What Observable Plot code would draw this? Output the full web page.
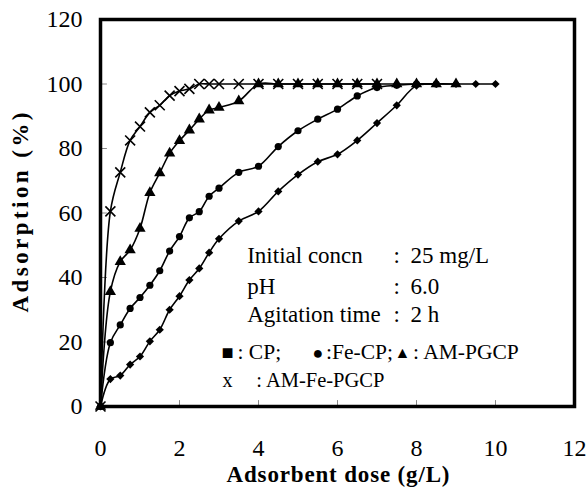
<!DOCTYPE html>
<html><head><meta charset="utf-8">
<script src="https://cdn.jsdelivr.net/npm/d3@7"></script>
<script src="https://cdn.jsdelivr.net/npm/@observablehq/plot@0.6"></script>
<style>
body{margin:0;background:#fff}
#chart svg, #chart svg text{font-family:"Liberation Serif","Times New Roman",serif !important}
</style>
</head><body><div id="chart"></div>
<script>
// Adsorbent dose (g/L)
const dose = [0,0.25,0.5,0.75,1,1.25,1.5,1.75,2,2.25,2.5,2.75,3,3.5,4,4.5,5,5.5,6,6.5,7,7.5,8,8.5,9,9.5,10];
// Adsorption (%) per series (values follow the dose list, from the start)
const cp = [0,8.5,9.6,13,15.5,20.2,23.8,30,34.2,39.2,42.8,47.7,52,57.5,60.5,66.7,71.9,75.9,78.2,82.5,87.9,93.4,99.5,100,100,100,100];
const feCp = [0,19.8,25.3,30.4,33.8,37.6,42.1,48.2,52.7,58.5,60.4,65.2,67.7,72.6,74.5,80.6,85.5,89.1,92.2,96.3,98.9,99.6,100,100];
const amPgcp = [0,35.6,44.9,48.5,55.2,66.3,72.4,78.5,82.4,85.7,89.1,91.9,92.7,94.7,100,100,100,100,100,100,100,100,100,100,100];
const amFePgcp = [0,60.5,72.6,82.5,86.8,91.2,93.4,96.4,97.8,98.5,100,100,100,100,100,100,100,100,100,100,100];

const seriesNames = ["CP","Fe-CP","AM-PGCP","AM-Fe-PGCP"];
const seriesValues = [cp, feCp, amPgcp, amFePgcp];

const xTicks = [0,2,4,6,8,10,12];
const yTicks = [0,20,40,60,80,100,120];

const xTitle = "Adsorbent dose (g/L)";
const yTitle = "Adsorption (%)";
const condNames = ["Initial concn","pH","Agitation time"];
const condValues = ["25 mg/L","6.0","2 h"];

const rows = seriesNames.flatMap((s, i) => seriesValues[i].map((v, j) => ({series: s, dose: dose[j], ads: v})));
const of = s => rows.filter(d => d.series === s);

const tickShape = {draw(ctx, l) { ctx.moveTo(0, 0); ctx.lineTo(0, -l); }};

const fontFam = '"Liberation Serif","Times New Roman",serif';
const txt = (s, dx, dy, fs, extra = {}) => Plot.text([s], {frameAnchor: "top-left", dx, dy, textAnchor: "start", lineAnchor: "middle", fontSize: fs, fontFamily: fontFam, fill: "black", ...extra});

const condDy = [236.3, 267, 295.3];

const chart = Plot.plot({
  width: 588, height: 489,
  marginLeft: 100, marginRight: 14, marginTop: 19, marginBottom: 83,
  style: {fontFamily: fontFam, background: "white", color: "black"},
  x: {domain: [0, 12]},
  y: {domain: [0, 120]},
  marks: [
    Plot.vector(xTicks, {x: d => d, frameAnchor: "bottom", length: 6, rotate: 0, anchor: "start", shape: tickShape, stroke: "#888", strokeWidth: 1}),
    Plot.vector(yTicks, {y: d => d, frameAnchor: "left", length: 6, rotate: 90, anchor: "start", shape: tickShape, stroke: "#888", strokeWidth: 1}),
    Plot.axisX({ticks: xTicks, tickSize: 0, tickPadding: 32, fontSize: 24, fontFamily: fontFam, label: null, tickFormat: d => String(d)}),
    Plot.axisY({ticks: yTicks, tickSize: 0, tickPadding: 18, fontSize: 24, fontFamily: fontFam, label: null, tickFormat: d => String(d)}),
    Plot.line(rows, {x: "dose", y: "ads", z: "series", curve: "catmull-rom", stroke: "black", strokeWidth: 1.6}),
    Plot.dot(of("CP"), {x: "dose", y: "ads", symbol: "diamond2", r: 3.7, fill: "black", stroke: "none"}),
    Plot.dot(of("Fe-CP"), {x: "dose", y: "ads", symbol: "circle", r: 3.6, fill: "black", stroke: "none"}),
    Plot.dot(of("AM-PGCP"), {x: "dose", y: "ads", symbol: "triangle", r: 4.2, fill: "black", stroke: "none"}),
    Plot.dot(of("AM-Fe-PGCP"), {x: "dose", y: "ads", symbol: "times", r: 4.6, stroke: "black", strokeWidth: 1.6}),
    Plot.frame({stroke: "black", strokeWidth: 3.5}),
    Plot.text([xTitle], {frameAnchor: "bottom-left", dx: 126, dy: 68.6, textAnchor: "start", lineAnchor: "middle", fontSize: 23, fontWeight: "bold", fontFamily: fontFam, className: "xtitle"}),
    Plot.text([yTitle], {frameAnchor: "bottom-left", dx: -80, dy: -94, rotate: -90, textAnchor: "start", lineAnchor: "middle", fontSize: 23, fontWeight: "bold", fontFamily: fontFam, className: "ytitle"}),
    ...condNames.map((s, i) => txt(s, 146.7, condDy[i], 23)),
    ...condValues.map((s, i) => txt(":", 293, condDy[i], 23)),
    ...condValues.map((s, i) => txt(s, 310, condDy[i], 23)),
    txt("■", 121, 333.5, 20),
    txt(": " + seriesNames[0] + ";", 137, 332.9, 21.5),
    txt("●", 212, 333.5, 18),
    txt(":" + seriesNames[1] + ";", 225.5, 332.9, 21.5),
    txt("▲", 294, 333.5, 16),
    txt(": " + seriesNames[2], 312.5, 332.9, 21.5),
    txt("x", 122, 361.3, 20),
    txt(": " + seriesNames[3], 155.7, 361.3, 20.5)
  ]
});
chart.querySelectorAll(".xtitle text").forEach(t => { t.setAttribute("textLength", 223); t.setAttribute("lengthAdjust", "spacing"); });
chart.querySelectorAll(".ytitle text").forEach(t => { t.setAttribute("textLength", 200); t.setAttribute("lengthAdjust", "spacing"); });
document.getElementById("chart").appendChild(chart);
</script>
</body></html>
